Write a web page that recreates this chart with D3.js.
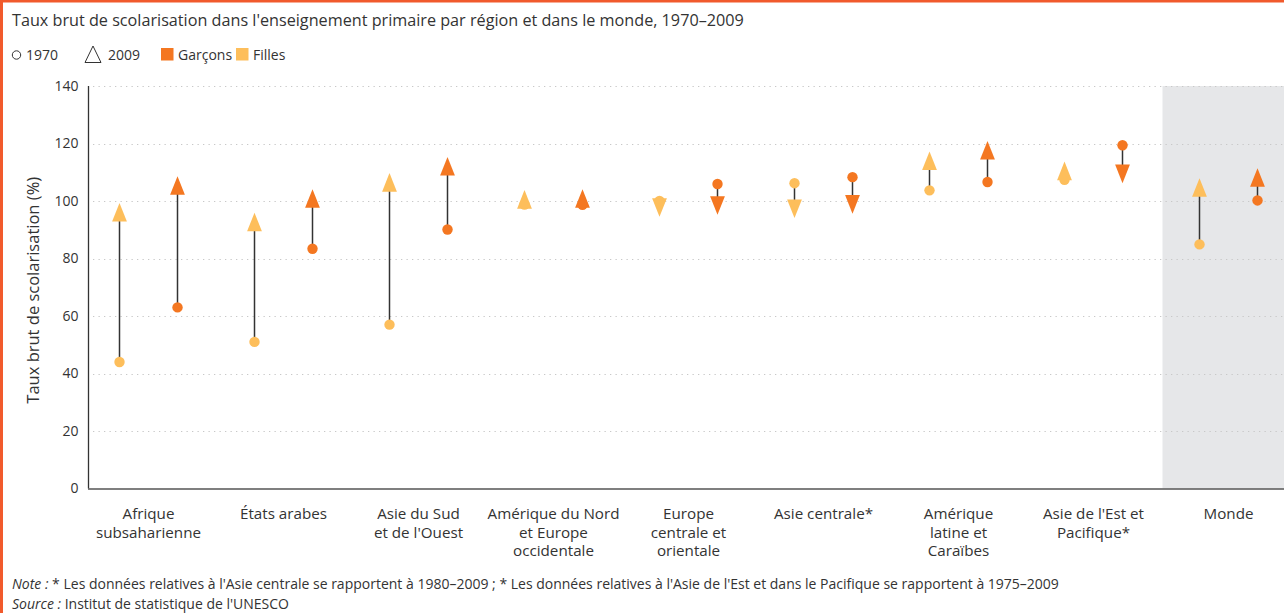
<!DOCTYPE html>
<html><head><meta charset="utf-8">
<script src="https://cdn.jsdelivr.net/npm/d3@7"></script>
<style>
html,body{margin:0;padding:0;background:#fff;}
svg{display:block;font-family:"Open Sans", "Noto Sans", sans-serif;}
</style></head>
<body>
<script>
const categories = [["Afrique","subsaharienne"],["États arabes"],["Asie du Sud","et de l'Ouest"],["Amérique du Nord","et Europe","occidentale"],["Europe","centrale et","orientale"],["Asie centrale*"],["Amérique","latine et","Caraïbes"],["Asie de l'Est et","Pacifique*"],["Monde"]];
const girls1970 = [44, 51, 57, 98.8, 100, 106.2, 103.7, 107.4, 84.9];
const girls2009 = [95, 91.6, 105.4, 99.5, 98.8, 98.4, 112.9, 109.4, 103.6];
const boys1970  = [63, 83.4, 90.1, 98.7, 105.9, 108.3, 106.6, 119.4, 100.2];
const boys2009  = [104.3, 99.8, 111, 99.8, 99.5, 99.9, 116.6, 110.5, 107.1];
const yTicks = [0,20,40,60,80,100,120,140];

const W=1284,H=613;
const BOYS="#F47721", GIRLS="#FDBE5B", BORDER="#F15A2C";
const svg=d3.select("body").append("svg").attr("width",W).attr("height",H);

svg.append("rect").attr("x",0).attr("y",0).attr("width",W).attr("height",2.5).attr("fill",BORDER);
svg.append("rect").attr("x",0).attr("y",0).attr("width",3).attr("height",H).attr("fill",BORDER);

const x=d3.scaleBand().domain(categories.map((c,i)=>i)).range([81,1296]);
const y=d3.scaleLinear().domain([0,140]).range([488.5,86]);
const off=29;

svg.append("rect").attr("x",x(8)+1.5).attr("y",y(140)).attr("width",W-x(8)).attr("height",y(0)-y(140)).attr("fill","#E6E7E9");

svg.append("g").selectAll("line").data(yTicks.slice(1)).join("line")
 .attr("x1",93).attr("x2",W).attr("y1",d=>Math.round(y(d))+0.5).attr("y2",d=>Math.round(y(d))+0.5)
 .attr("stroke","#C8C8C8").attr("stroke-width",1.2).attr("stroke-dasharray","1.3,4.2");

const yAx=svg.append("g").attr("transform","translate(88.5,0)").call(d3.axisLeft(y).tickValues(yTicks).tickSize(0).tickPadding(10));
yAx.select(".domain").attr("stroke","#333").attr("stroke-width",1.3).attr("d",`M0,${y(140)}V${y(0)}`);
yAx.selectAll("text").attr("font-size",14).attr("fill","#333").attr("font-family","Open Sans");
svg.append("line").attr("x1",88).attr("x2",W).attr("y1",y(0)+0.5).attr("y2",y(0)+0.5).attr("stroke","#555").attr("stroke-width",1.3);

const xl=svg.append("g");
categories.forEach((c,i)=>{
  const t=xl.append("text").attr("x",x(i)+x.bandwidth()/2).attr("y",519).attr("text-anchor","middle").attr("font-size",15.2).attr("fill","#333");
  c.forEach((ln,j)=>t.append("tspan").attr("x",x(i)+x.bandwidth()/2).attr("dy",j?18.5:0).text(ln));
});

svg.append("text").attr("transform",`translate(39,${(y(0)+y(140))/2+3}) rotate(-90)`).attr("text-anchor","middle")
 .attr("font-size",16.5).attr("fill","#333").text("Taux brut de scolarisation (%)");

function tri(up){
  const w=7.4,h=18.6;
  return up?`M0,${-2*h/3}L${w},${h/3}L${-w},${h/3}Z`:`M0,${2*h/3}L${w},${-h/3}L${-w},${-h/3}Z`;
}
const series=[{v0:girls1970,v1:girls2009,dx:-off,c:GIRLS},{v0:boys1970,v1:boys2009,dx:off,c:BOYS}];
const marks=svg.append("g");
series.forEach(s=>{
  categories.forEach((c,i)=>{
    const cx=x(i)+x.bandwidth()/2+s.dx;
    marks.append("line").attr("x1",cx).attr("x2",cx).attr("y1",y(s.v0[i])).attr("y2",y(s.v1[i])).attr("stroke","#333").attr("stroke-width",1.5);
  });
});
series.forEach(s=>{
  categories.forEach((c,i)=>{
    const cx=x(i)+x.bandwidth()/2+s.dx;
    marks.append("circle").attr("cx",cx).attr("cy",y(s.v0[i])).attr("r",5.2).attr("fill",s.c);
    marks.append("path").attr("transform",`translate(${cx},${y(s.v1[i])})`).attr("d",tri(s.v1[i]>=s.v0[i])).attr("fill",s.c);
  });
});

svg.append("text").attr("x",12).attr("y",26).attr("font-size",16.2).attr("fill","#333")
 .text("Taux brut de scolarisation dans l'enseignement primaire par région et dans le monde, 1970–2009");

const lg=svg.append("g").attr("font-size",14).attr("fill","#333");
lg.append("circle").attr("cx",16.5).attr("cy",55).attr("r",4.2).attr("fill","none").attr("stroke","#333").attr("stroke-width",1);
lg.append("text").attr("x",26).attr("y",60).text("1970");
lg.append("path").attr("d","M93,46L101,62.5L85,62.5Z").attr("fill","none").attr("stroke","#333").attr("stroke-width",1);
lg.append("text").attr("x",108).attr("y",60).text("2009");
lg.append("rect").attr("x",161).attr("y",48).attr("width",12.5).attr("height",12.5).attr("fill",BOYS);
lg.append("text").attr("x",178).attr("y",60).text("Garçons");
lg.append("rect").attr("x",236).attr("y",48).attr("width",12.5).attr("height",12.5).attr("fill",GIRLS);
lg.append("text").attr("x",253).attr("y",60).text("Filles");

const n1=svg.append("text").attr("x",12).attr("y",589).attr("font-size",14).attr("fill","#333");
n1.append("tspan").attr("font-style","italic").text("Note :");
n1.append("tspan").text("  * Les données relatives à l'Asie centrale se rapportent à 1980–2009 ;  * Les données relatives à l'Asie de l'Est et dans le Pacifique se rapportent à 1975–2009");
const n2=svg.append("text").attr("x",12).attr("y",609).attr("font-size",14).attr("fill","#333");
n2.append("tspan").attr("font-style","italic").text("Source :");
n2.append("tspan").text(" Institut de statistique de l'UNESCO");
</script>
</body></html>
